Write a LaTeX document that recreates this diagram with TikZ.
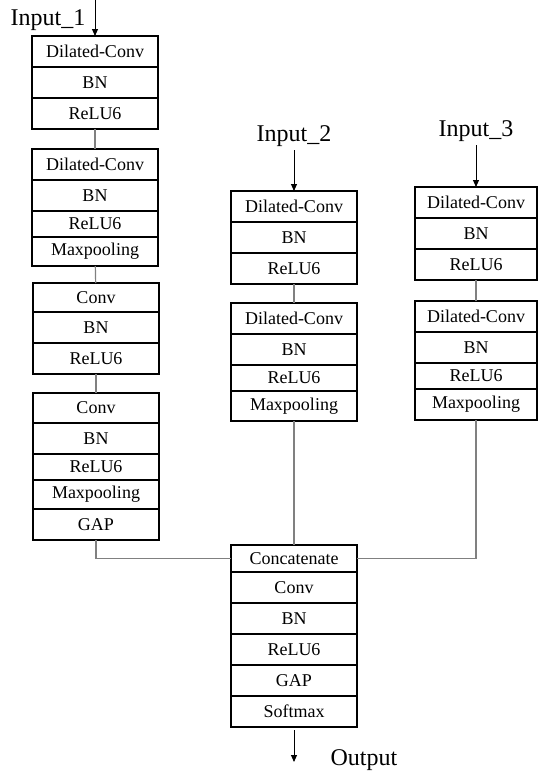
\documentclass[tikz,border=0pt]{standalone}
\usepackage{fontspec}
\setmainfont{Liberation Serif}
\usetikzlibrary{arrows.meta,positioning}

\begin{document}
\begin{tikzpicture}[x=1pt, y=-1pt, node distance=0pt,
  every node/.style={font=\fontsize{18}{20}\selectfont},
  layer/.style={rectangle, draw, line width=1.6pt, inner sep=0pt, outer sep=0pt,
                minimum width=126pt, minimum height=31pt, align=center},
  short/.style={minimum height=26pt},
  inlabel/.style={font=\fontsize{24}{27}\selectfont},
  link/.style={draw=gray, line width=1.2pt},
  arrow/.style={-{Triangle[length=7pt,width=6pt]}, line width=0.9pt}]
  \useasboundingbox (0,0) rectangle (538,772);

  % branch 1
  \node[inlabel] (in1) at (48,20) {Input\_1};
  \coordinate (in1top) at (95,0);
  \node[layer, anchor=north] (p1dc1) at (95,36) {Dilated-Conv};
  \node[layer, below=of p1dc1] (p1bn1) {BN};
  \node[layer, below=of p1bn1] (p1re1) {ReLU6};
  \node[layer, anchor=north] (p1dc2) at (95,149) {Dilated-Conv};
  \node[layer, below=of p1dc2] (p1bn2) {BN};
  \node[layer, short, below=of p1bn2] (p1re2) {ReLU6};
  \node[layer, minimum height=29pt, below=of p1re2] (p1mp2) {Maxpooling};
  \node[layer, minimum height=29pt, anchor=north] (p1cv3) at (96,283) {Conv};
  \node[layer, below=of p1cv3] (p1bn3) {BN};
  \node[layer, below=of p1bn3] (p1re3) {ReLU6};
  \node[layer, minimum height=30pt, anchor=north] (p1cv4) at (96,393) {Conv};
  \node[layer, below=of p1cv4] (p1bn4) {BN};
  \node[layer, short, below=of p1bn4] (p1re4) {ReLU6};
  \node[layer, minimum height=29pt, below=of p1re4] (p1mp4) {Maxpooling};
  \node[layer, below=of p1mp4] (p1gap) {GAP};

  % branch 2
  \node[inlabel] (in2) at (294,136) {Input\_2};
  \node[layer, anchor=north] (p2dc1) at (294,191) {Dilated-Conv};
  \node[layer, below=of p2dc1] (p2bn1) {BN};
  \node[layer, below=of p2bn1] (p2re1) {ReLU6};
  \node[layer, anchor=north] (p2dc2) at (294,303) {Dilated-Conv};
  \node[layer, below=of p2dc2] (p2bn2) {BN};
  \node[layer, short, below=of p2bn2] (p2re2) {ReLU6};
  \node[layer, minimum height=30pt, below=of p2re2] (p2mp2) {Maxpooling};

  % branch 3
  \node[inlabel] (in3) at (476,131) {Input\_3};
  \node[layer, minimum width=122pt, anchor=north] (p3dc1) at (476,187) {Dilated-Conv};
  \node[layer, minimum width=122pt, below=of p3dc1] (p3bn1) {BN};
  \node[layer, minimum width=122pt, below=of p3bn1] (p3re1) {ReLU6};
  \node[layer, minimum width=122pt, anchor=north] (p3dc2) at (476,301) {Dilated-Conv};
  \node[layer, minimum width=122pt, below=of p3dc2] (p3bn2) {BN};
  \node[layer, minimum width=122pt, short, below=of p3bn2] (p3re2) {ReLU6};
  \node[layer, minimum width=122pt, below=of p3re2] (p3mp2) {Maxpooling};

  % fusion head
  \node[layer, minimum height=27pt, anchor=north] (cat) at (294,545) {Concatenate};
  \node[layer, below=of cat] (conv) {Conv};
  \node[layer, below=of conv] (bn) {BN};
  \node[layer, below=of bn] (relu) {ReLU6};
  \node[layer, below=of relu] (gap) {GAP};
  \node[layer, below=of gap] (soft) {Softmax};
  \coordinate (out) at (294,762);
  \node[inlabel, anchor=west] (outlbl) at (327,760) {Output};

  % inputs
  \draw[arrow] (in1top) -- (p1dc1);
  \draw[arrow] (in2) -- (p2dc1);
  \draw[arrow] (in3) -- (p3dc1);

  % links between blocks
  \draw[link] (p1re1) -- (p1dc2);
  \draw[link] (p1mp2) -- (p1cv3);
  \draw[link] (p1re3) -- (p1cv4);
  \draw[link] (p2re1) -- (p2dc2);
  \draw[link] (p3re1) -- (p3dc2);
  \draw[link] (p1gap.south) |- (cat.west);
  \draw[link] (p2mp2) -- (cat);
  \draw[link] (p3mp2.south) |- (cat.east);

  \draw[arrow, shorten <=3pt] (soft) -- (out);
\end{tikzpicture}
\end{document}
